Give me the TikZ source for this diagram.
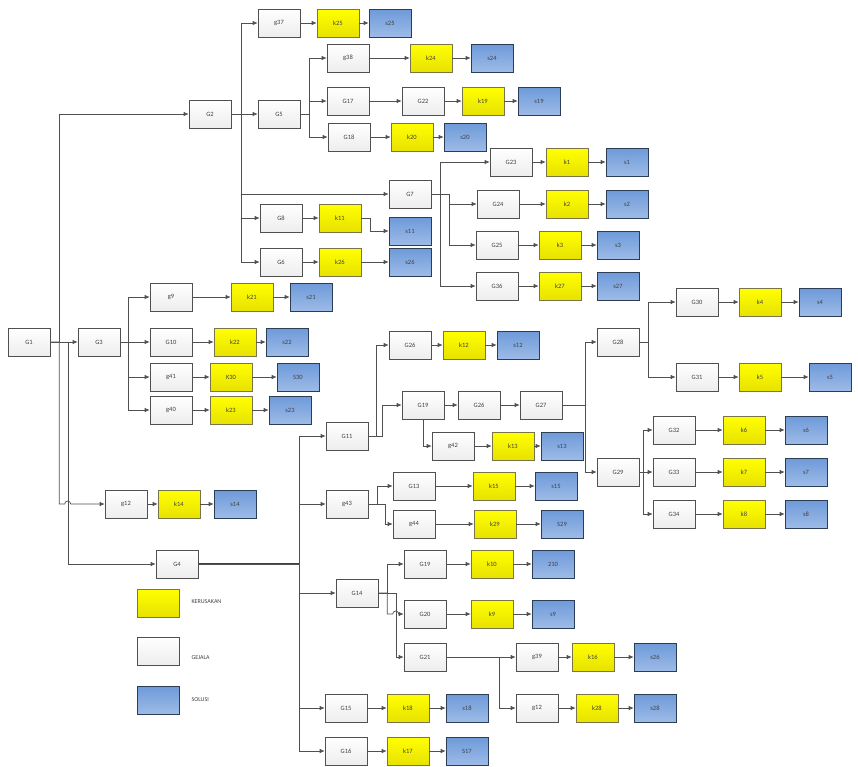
\documentclass[tikz,border=0pt]{standalone}
\usepackage{fontspec}
\setmainfont{Carlito}
\usetikzlibrary{arrows.meta,shadows}
\definecolor{linegray}{HTML}{505050}
\definecolor{textgray}{HTML}{404040}
\definecolor{bluetop}{HTML}{6E9AD8}
\definecolor{bluebot}{HTML}{9DBBE8}
\definecolor{yelbot}{HTML}{E8E200}

\begin{document}
\begin{tikzpicture}
      [x = 1pt, y = -1pt,
      conn/.style={-{Latex[length = 5pt, width = 4.5pt]}, draw = linegray, line width = 0.7pt},
      bold/.style={draw = linegray!80!black, line width = 1.4pt},
      box/.style= {
         draw,
         rectangle,
         line width = 0.6pt,
         minimum width = 42pt,
         minimum height = 28pt,
         inner sep = 0pt,
         text = textgray,
         font = \fontsize{6.5}{7}\selectfont,
         drop shadow = {opacity = 0.2, shadow xshift = 1pt, shadow yshift = -1pt}
      },
      gejala/.style= {
         box,
         draw = linegray,
         top color = white,
         bottom color = gray!14
      },
      rusak/.style= {
         box,
         draw = yellow!40!black,
         top color = yellow,
         bottom color = yelbot
      },
      solusi/.style= {
         box,
         draw = bluetop!40!black,
         top color = bluetop,
         bottom color = bluebot
      },
      legend/.style= {
         anchor = west,
         text = textgray,
         font = \fontsize{6}{7}\selectfont
      }]

      \useasboundingbox (0, 0) rectangle (858, 766);

      % gejala
      \node[gejala] (G1) at (29, 342) {G1};
      \node[gejala] (G2) at (210, 114) {G2};
      \node[gejala] (G3) at (99, 342) {G3};
      \node[gejala] (G4) at (177, 564) {G4};
      \node[gejala] (g37) at (279, 23) {g37};
      \node[gejala] (G5) at (279, 114) {G5};
      \node[gejala] (g38) at (348, 58) {g38};
      \node[gejala] (G17) at (348, 101) {G17};
      \node[gejala] (G22) at (423, 101) {G22};
      \node[gejala] (G18) at (349, 137) {G18};
      \node[gejala] (G7) at (410, 194) {G7};
      \node[gejala] (G8) at (281, 218) {G8};
      \node[gejala] (G6) at (281, 262) {G6};
      \node[gejala] (G23) at (511, 162) {G23};
      \node[gejala] (G24) at (498, 204) {G24};
      \node[gejala] (G25) at (497, 245) {G25};
      \node[gejala] (G36) at (497, 286) {G36};
      \node[gejala] (g9) at (171, 297) {g9};
      \node[gejala] (G10) at (171, 342) {G10};
      \node[gejala] (g41) at (171, 377) {g41};
      \node[gejala] (g40) at (171, 410) {g40};
      \node[gejala] (g12a) at (126, 504) {g12};
      \node[gejala] (G11) at (347, 436) {G11};
      \node[gejala] (G26a) at (410, 345) {G26};
      \node[gejala] (G19a) at (423, 405) {G19};
      \node[gejala] (G26b) at (479, 405) {G26};
      \node[gejala] (G27) at (541, 405) {G27};
      \node[gejala] (g42) at (453, 446) {g42};
      \node[gejala] (G28) at (618, 342) {G28};
      \node[gejala] (G29) at (618, 472) {G29};
      \node[gejala] (G30) at (697, 302) {G30};
      \node[gejala] (G31) at (697, 377) {G31};
      \node[gejala] (G32) at (674, 430) {G32};
      \node[gejala] (G33) at (674, 472) {G33};
      \node[gejala] (G34) at (674, 514) {G34};
      \node[gejala] (g43) at (347, 504) {g43};
      \node[gejala] (G13) at (414, 486) {G13};
      \node[gejala] (g44) at (414, 524) {g44};
      \node[gejala] (G14) at (357, 593) {G14};
      \node[gejala] (G19b) at (425, 564) {G19};
      \node[gejala] (G20) at (425, 614) {G20};
      \node[gejala] (G21) at (425, 657) {G21};
      \node[gejala] (g39) at (537, 657) {g39};
      \node[gejala] (g12b) at (537, 708) {g12};
      \node[gejala] (G15) at (346, 708) {G15};
      \node[gejala] (G16) at (346, 751) {G16};

      % kerusakan
      \node[rusak] (k25) at (338, 23) {k25};
      \node[rusak] (k24) at (431, 58) {k24};
      \node[rusak] (k19) at (483, 101) {k19};
      \node[rusak] (k20) at (412, 137) {k20};
      \node[rusak] (k11) at (340, 218) {k11};
      \node[rusak] (k26) at (340, 262) {k26};
      \node[rusak] (k1) at (567, 162) {k1};
      \node[rusak] (k2) at (567, 204) {k2};
      \node[rusak] (k3) at (560, 245) {k3};
      \node[rusak] (k27) at (560, 286) {k27};
      \node[rusak] (k21) at (252, 297) {k21};
      \node[rusak] (k22) at (235, 342) {k22};
      \node[rusak] (K30) at (231, 377) {K30};
      \node[rusak] (k23) at (231, 410) {k23};
      \node[rusak] (k14) at (179, 504) {k14};
      \node[rusak] (k12) at (464, 345) {k12};
      \node[rusak] (k13) at (513, 446) {k13};
      \node[rusak] (k4) at (760, 302) {k4};
      \node[rusak] (k5) at (760, 377) {k5};
      \node[rusak] (k6) at (744, 430) {k6};
      \node[rusak] (k7) at (744, 472) {k7};
      \node[rusak] (k8) at (744, 514) {k8};
      \node[rusak] (k15) at (494, 486) {k15};
      \node[rusak] (k29) at (495, 524) {k29};
      \node[rusak] (k10) at (492, 564) {k10};
      \node[rusak] (k9) at (492, 614) {k9};
      \node[rusak] (k16) at (593, 657) {k16};
      \node[rusak] (k28) at (597, 708) {k28};
      \node[rusak] (k18) at (408, 708) {k18};
      \node[rusak] (k17) at (408, 751) {k17};

      % solusi
      \node[solusi] (s25) at (390, 23) {s25};
      \node[solusi] (s24) at (492, 58) {s24};
      \node[solusi] (s19) at (539, 101) {s19};
      \node[solusi] (s20) at (465, 137) {s20};
      \node[solusi] (s11) at (410, 231) {s11};
      \node[solusi] (s26a) at (410, 262) {s26};
      \node[solusi] (s1) at (627, 162) {s1};
      \node[solusi] (s2) at (627, 204) {s2};
      \node[solusi] (s3) at (618, 245) {s3};
      \node[solusi] (s27) at (618, 286) {s27};
      \node[solusi] (s21) at (311, 297) {s21};
      \node[solusi] (s22) at (287, 342) {s22};
      \node[solusi] (S30) at (298, 377) {S30};
      \node[solusi] (s23) at (290, 410) {s23};
      \node[solusi] (s14) at (235, 504) {s14};
      \node[solusi] (s12) at (518, 345) {s12};
      \node[solusi] (s13) at (562, 446) {s13};
      \node[solusi] (s4) at (820, 302) {s4};
      \node[solusi] (s5) at (830, 377) {s5};
      \node[solusi] (s6) at (806, 430) {s6};
      \node[solusi] (s7) at (806, 472) {s7};
      \node[solusi] (s8) at (806, 514) {s8};
      \node[solusi] (s15) at (556, 486) {s15};
      \node[solusi] (S29) at (562, 524) {S29};
      \node[solusi] (s210) at (553, 564) {210};
      \node[solusi] (s9) at (553, 614) {s9};
      \node[solusi] (s26b) at (655, 657) {s26};
      \node[solusi] (s28) at (655, 708) {s28};
      \node[solusi] (s18) at (467, 708) {s18};
      \node[solusi] (S17) at (467, 751) {S17};

      % legenda
      \node[rusak] (legK) at (158, 603) {};
      \node[gejala] (legG) at (158, 651) {};
      \node[solusi] (legS) at (158, 700) {};
      \node[legend] (txtK) at (188, 602) {KERUSAKAN};
      \node[legend] (txtG) at (188, 658) {GEJALA};
      \node[legend] (txtS) at (188, 700) {SOLUSI};

      % G1
      \draw[conn] (G1.east) -- ++(9, 0) |- (G2.west);
      \draw[conn] (G1) -- (G3);
      \draw[conn] (G1.east) -- ++(9, 0) |- ([xshift = -40pt]g12a.west)
         arc[start angle = 180, end angle = 360, radius = 3] -- (g12a.west);
      \draw[conn] (G1.east) -- ++(18, 0) |- (G4.west);

      % G2
      \draw[conn] (G2.east) -- ++(10, 0) |- (g37.west);
      \draw[conn] (G2) -- (G5);
      \draw[conn] (G2.east) -- ++(10, 0) |- (G7.west);
      \draw[conn] (G2.east) -- ++(10, 0) |- (G8.west);
      \draw[conn] (G2.east) -- ++(10, 0) |- (G6.west);
      \draw[conn] (g37) -- (k25);
      \draw[conn] (k25) -- (s25);
      \draw[conn] (G5.east) -- ++(9, 0) |- (g38.west);
      \draw[conn] (G5.east) -- ++(9, 0) |- (G17.west);
      \draw[conn] (G5.east) -- ++(9, 0) |- (G18.west);
      \draw[conn] (g38) -- (k24);
      \draw[conn] (k24) -- (s24);
      \draw[conn] (G17) -- (G22);
      \draw[conn] (G22) -- (k19);
      \draw[conn] (k19) -- (s19);
      \draw[conn] (G18) -- (k20);
      \draw[conn] (k20) -- (s20);
      \draw[conn] (G8) -- (k11);
      \draw[conn] (k11.east) -- ++(9, 0) |- (s11.west);
      \draw[conn] (G6) -- (k26);
      \draw[conn] (k26) -- (s26a);

      % G7
      \draw[conn] (G7.east) -- ++(9, 0) |- (G23.west);
      \draw[conn] (G7.east) -- ++(18, 0) |- (G24.west);
      \draw[conn] (G7.east) -- ++(18, 0) |- (G25.west);
      \draw[conn] (G7.east) -- ++(9, 0) |- (G36.west);
      \draw[conn] (G23) -- (k1);
      \draw[conn] (k1) -- (s1);
      \draw[conn] (G24) -- (k2);
      \draw[conn] (k2) -- (s2);
      \draw[conn] (G25) -- (k3);
      \draw[conn] (k3) -- (s3);
      \draw[conn] (G36) -- (k27);
      \draw[conn] (k27) -- (s27);

      % G3
      \draw[conn] (G3.east) -- ++(8, 0) |- (g9.west);
      \draw[conn] (G3) -- (G10);
      \draw[conn] (G3.east) -- ++(8, 0) |- (g41.west);
      \draw[conn] (G3.east) -- ++(8, 0) |- (g40.west);
      \draw[conn] (g9) -- (k21);
      \draw[conn] (k21) -- (s21);
      \draw[conn] (G10) -- (k22);
      \draw[conn] (k22) -- (s22);
      \draw[conn] (g41) -- (K30);
      \draw[conn] (K30) -- (S30);
      \draw[conn] (g40) -- (k23);
      \draw[conn] (k23) -- (s23);
      \draw[conn] (g12a) -- (k14);
      \draw[conn] (k14) -- (s14);

      % G4
      \draw[bold] (G4.east) -- ++(101, 0) coordinate (t4);
      \draw[bold] (t4 |- G11) -- (t4 |- G16);
      \draw[conn] (G4.east) -- ++(101, 0) |- (G11.west);
      \draw[conn] (G4.east) -- ++(101, 0) |- (g43.west);
      \draw[conn] (G4.east) -- ++(101, 0) |- (G14.west);
      \draw[conn] (G4.east) -- ++(101, 0) |- (G15.west);
      \draw[conn] (G4.east) -- ++(101, 0) |- (G16.west);

      % G11
      \draw[conn] (G11.east) -- ++(8, 0) |- (G26a.west);
      \draw[conn] (G11.east) -- ++(14, 0) |- (G19a.west);
      \draw[conn] (G26a) -- (k12);
      \draw[conn] (k12) -- (s12);
      \draw[conn] (G19a) -- (G26b);
      \draw[conn] (G26b) -- (G27);
      \draw[conn] (G19a.south) |- (g42.west);
      \draw[conn] (g42) -- (k13);
      \draw[conn] (k13) -- (s13);
      \draw[conn] (G27.east) -- ++(23, 0) |- (G28.west);
      \draw[conn] (G27.east) -- ++(23, 0) |- (G29.west);
      \draw[conn] (G28.east) -- ++(9, 0) |- (G30.west);
      \draw[conn] (G28.east) -- ++(9, 0) |- (G31.west);
      \draw[conn] (G30) -- (k4);
      \draw[conn] (k4) -- (s4);
      \draw[conn] (G31) -- (k5);
      \draw[conn] (k5) -- (s5);
      \draw[conn] (G29.east) -- ++(4, 0) |- (G32.west);
      \draw[conn] (G29) -- (G33);
      \draw[conn] (G29.east) -- ++(4, 0) |- (G34.west);
      \draw[conn] (G32) -- (k6);
      \draw[conn] (k6) -- (s6);
      \draw[conn] (G33) -- (k7);
      \draw[conn] (k7) -- (s7);
      \draw[conn] (G34) -- (k8);
      \draw[conn] (k8) -- (s8);

      % g43
      \draw[conn] (g43.east) -- ++(9, 0) |- (G13.west);
      \draw[conn] (g43.east) -- ++(17, 0) |- (g44.west);
      \draw[conn] (G13) -- (k15);
      \draw[conn] (k15) -- (s15);
      \draw[conn] (g44) -- (k29);
      \draw[conn] (k29) -- (S29);

      % G14
      \draw[conn] (G14.east) -- ++(9, 0) |- (G19b.west);
      \draw[conn] (G14.east) -- ++(9, 0) |- ([xshift = -11pt]G20.west)
         arc[start angle = 180, end angle = 360, radius = 3] -- (G20.west);
      \draw[conn] (G14.east) -- ++(18, 0) |- (G21.west);
      \draw[conn] (G19b) -- (k10);
      \draw[conn] (k10) -- (s210);
      \draw[conn] (G20) -- (k9);
      \draw[conn] (k9) -- (s9);
      \draw[conn] (G21) -- (g39);
      \draw[conn] (G21.east) -- ++(53, 0) |- (g12b.west);
      \draw[conn] (g39) -- (k16);
      \draw[conn] (k16) -- (s26b);
      \draw[conn] (g12b) -- (k28);
      \draw[conn] (k28) -- (s28);

      % G15, G16
      \draw[conn] (G15) -- (k18);
      \draw[conn] (k18) -- (s18);
      \draw[conn] (G16) -- (k17);
      \draw[conn] (k17) -- (S17);

   \end{tikzpicture}
\end{document}
